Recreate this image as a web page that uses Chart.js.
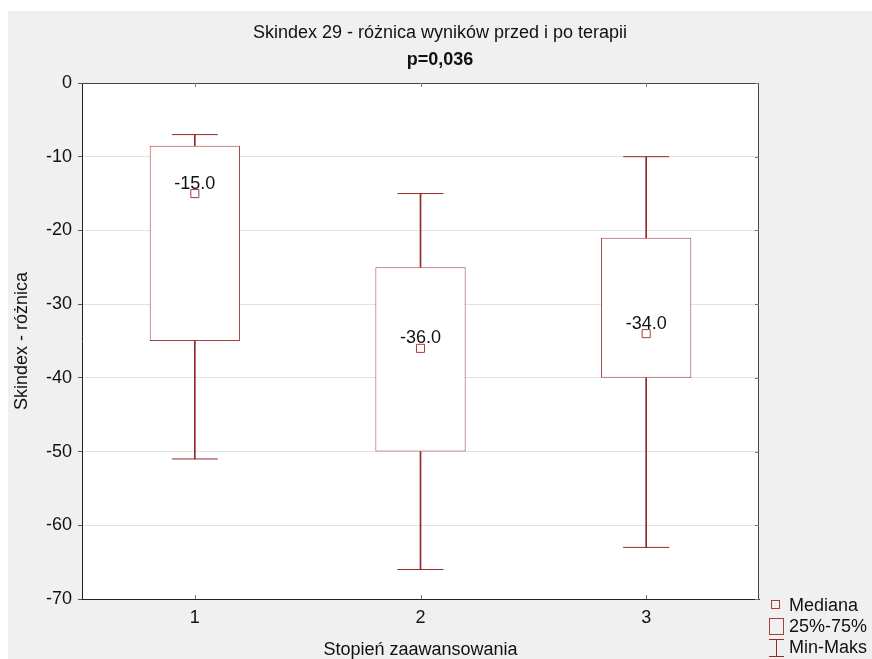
<!DOCTYPE html>
<html>
<head>
<meta charset="utf-8">
<script src="https://cdn.jsdelivr.net/npm/chart.js@4.4.1/dist/chart.umd.min.js"></script>
<style>
    html, body { margin: 0; padding: 0; background: #fff; }
    canvas { display: block; }
</style>
</head>
<body>
<canvas id="boxChart" width="872" height="659"></canvas>
<script>
// values
const categories = ['1', '2', '3'];
const minVals = [-51, -66, -63];
const q1Vals = [-35, -50, -40];
const medianVals = [-15, -36, -34];
const q3Vals = [-8.5, -25, -21];
const maxVals = [-7, -15, -10];
const yMin = -70;
const yMax = 0;
const yStep = 10;

const FONT = "'Liberation Sans', Arial, sans-serif";
const WHISKER = '#962828';
const BOX = '#a63f3f';

const panelPlugin = {
    id: 'panel',
    beforeDraw(chart) {
        const { ctx, chartArea: a } = chart;
        ctx.save();
        ctx.fillStyle = '#f0f0f0';
        ctx.fillRect(8, 11, chart.width - 8, chart.height - 11);
        ctx.fillStyle = '#fff';
        ctx.fillRect(a.left, a.top, a.right - a.left, a.bottom - a.top);
        ctx.restore();
    },
    afterDraw(chart) {
        const { ctx, chartArea: a, scales } = chart;
        ctx.save();
        // top and right frame
        ctx.strokeStyle = '#444';
        ctx.lineWidth = 1;
        ctx.beginPath();
        ctx.moveTo(a.left, a.top + 0.5);
        ctx.lineTo(a.right, a.top + 0.5);
        ctx.moveTo(a.right - 0.5, a.top);
        ctx.lineTo(a.right - 0.5, a.bottom);
        ctx.stroke();

        // small inner ticks
        ctx.strokeStyle = '#777';
        ctx.beginPath();
        categories.forEach((c, i) => {
            const x = Math.round(scales.x.getPixelForTick(i)) + 0.5;
            ctx.moveTo(x, a.top);
            ctx.lineTo(x, a.top + 4);
            ctx.moveTo(x, a.bottom);
            ctx.lineTo(x, a.bottom - 4);
        });
        for (let v = yMin; v <= yMax; v += yStep) {
            const y = Math.round(scales.y.getPixelForValue(v)) + 0.5;
            ctx.moveTo(a.right, y);
            ctx.lineTo(a.right - 4, y);
        }
        ctx.stroke();

        // legend
        ctx.strokeStyle = BOX;
        ctx.strokeRect(771.5, 600.5, 8, 8);
        ctx.strokeRect(769.5, 618.5, 14, 16);
        ctx.strokeStyle = WHISKER;
        ctx.beginPath();
        ctx.moveTo(769, 639.5);
        ctx.lineTo(784, 639.5);
        ctx.moveTo(776.5, 639);
        ctx.lineTo(776.5, 657);
        ctx.moveTo(769, 656.5);
        ctx.lineTo(784, 656.5);
        ctx.stroke();

        ctx.fillStyle = '#111';
        ctx.font = '18px ' + FONT;
        ctx.textBaseline = 'middle';
        ctx.textAlign = 'left';
        ctx.fillText('Mediana', 789, 606);
        ctx.fillText('25%-75%', 789, 627);
        ctx.fillText('Min-Maks', 789, 648);
        ctx.restore();
    }
};

const medianLabels = {
    id: 'medianLabels',
    afterDatasetsDraw(chart) {
        const { ctx } = chart;
        const meta = chart.getDatasetMeta(0);
        ctx.save();
        ctx.fillStyle = '#111';
        ctx.font = '18px ' + FONT;
        ctx.textAlign = 'center';
        ctx.textBaseline = 'middle';
        meta.data.forEach((pt, i) => {
            ctx.fillText(medianVals[i].toFixed(1), pt.x, pt.y - 10);
        });
        ctx.restore();
    }
};

new Chart(document.getElementById('boxChart'), {
    data: {
        labels: categories,
        datasets: [
            {
                type: 'line',
                label: 'Mediana',
                data: medianVals,
                showLine: false,
                pointStyle: 'rect',
                pointRadius: 5.7,
                pointBackgroundColor: '#fff',
                pointBorderColor: BOX,
                pointBorderWidth: 1
            },
            {
                type: 'line',
                label: 'Maks',
                data: maxVals,
                showLine: false,
                pointStyle: 'line',
                pointRadius: 23,
                pointBorderColor: WHISKER,
                pointBorderWidth: 1
            },
            {
                type: 'line',
                label: 'Min',
                data: minVals,
                showLine: false,
                pointStyle: 'line',
                pointRadius: 23,
                pointBorderColor: WHISKER,
                pointBorderWidth: 1
            },
            {
                type: 'bar',
                label: '25%-75%',
                data: categories.map((c, i) => [q1Vals[i], q3Vals[i]]),
                backgroundColor: '#fff',
                borderColor: BOX,
                borderWidth: 1,
                borderSkipped: false,
                grouped: false,
                barPercentage: 0.4,
                categoryPercentage: 1
            },
            {
                type: 'bar',
                label: 'upper',
                data: categories.map((c, i) => [q3Vals[i], maxVals[i]]),
                backgroundColor: WHISKER,
                borderWidth: 0,
                grouped: false,
                barThickness: 1
            },
            {
                type: 'bar',
                label: 'lower',
                data: categories.map((c, i) => [minVals[i], q1Vals[i]]),
                backgroundColor: WHISKER,
                borderWidth: 0,
                grouped: false,
                barThickness: 1
            }
        ]
    },
    options: {
        responsive: false,
        devicePixelRatio: 1,
        animation: false,
        events: [],
        layout: { padding: { top: 11, left: 8, right: 0, bottom: 0 } },
        plugins: {
            legend: { display: false },
            tooltip: { enabled: false },
            title: {
                display: true,
                text: 'Skindex 29 - różnica wyników przed i po terapii',
                color: '#111',
                font: { family: FONT, size: 18, weight: 'normal' },
                padding: { top: 11.2, bottom: 0 }
            },
            subtitle: {
                display: true,
                text: 'p=0,036',
                color: '#111',
                font: { family: FONT, size: 18, weight: 'bold' },
                padding: { top: 5.4, bottom: 12.2 }
            }
        },
        scales: {
            x: {
                type: 'category',
                offset: true,
                grid: { display: false, drawTicks: false },
                border: { display: true, color: '#222' },
                ticks: { color: '#111', font: { family: FONT, size: 18 }, padding: 8 },
                title: {
                    display: true,
                    text: 'Stopień zaawansowania',
                    color: '#111',
                    font: { family: FONT, size: 18, lineHeight: 1 },
                    padding: { top: 0, bottom: 0 }
                },
                afterFit(scale) { scale.height = 60; }
            },
            y: {
                min: yMin,
                max: yMax,
                ticks: {
                    stepSize: yStep,
                    color: '#111',
                    font: { family: FONT, size: 18 },
                    padding: 6
                },
                grid: { color: '#e2e2e2', tickColor: '#555', tickLength: 4 },
                border: { display: true, color: '#222' },
                title: {
                    display: true,
                    text: 'Skindex - różnica',
                    color: '#111',
                    font: { family: FONT, size: 18, lineHeight: 1 },
                    padding: { top: 5, bottom: 0 }
                },
                afterFit(scale) { scale.width = 74; }
            },
            // empty right margin that holds the legend
            yRight: {
                position: 'right',
                min: yMin,
                max: yMax,
                grid: { display: false },
                border: { display: false },
                ticks: { display: false },
                afterFit(scale) { scale.width = 113; }
            }
        }
    },
    plugins: [panelPlugin, medianLabels]
});
</script>
</body>
</html>
